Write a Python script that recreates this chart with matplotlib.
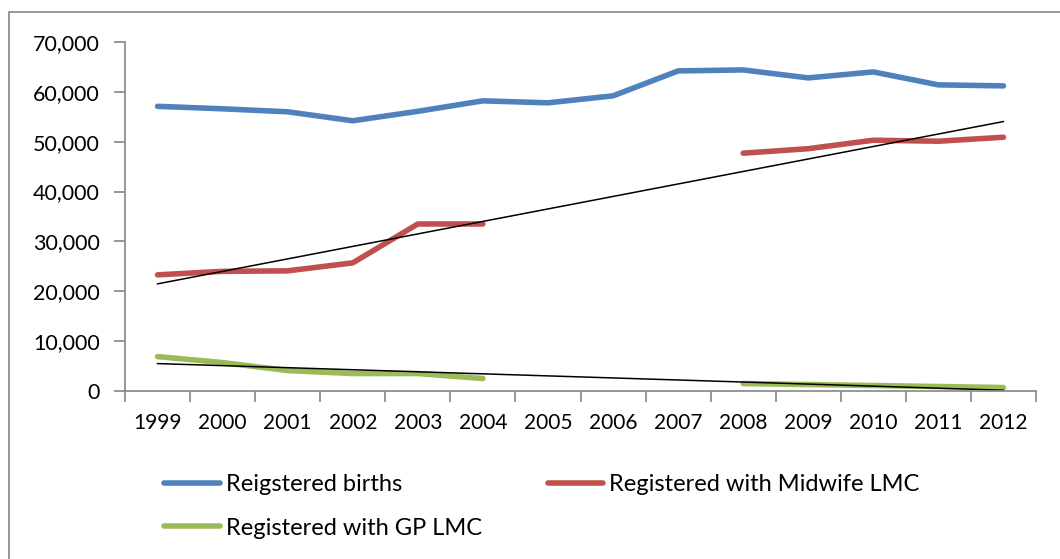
import numpy as np
import matplotlib.pyplot as plt
from matplotlib.patches import Rectangle
from matplotlib.ticker import FuncFormatter

years = [1999, 2000, 2001, 2002, 2003, 2004, 2005, 2006, 2007, 2008, 2009, 2010, 2011, 2012]
births = [57100, 56600, 56000, 54200, 56100, 58200, 57800, 59200, 64200, 64400, 62800, 64000, 61400, 61200]
midwife = [23300, 24000, 24100, 25700, 33500, 33500, None, None, None, 47700, 48600, 50300, 50100, 50900]
gp = [6900, 5700, 4100, 3500, 3500, 2500, None, None, None, 1500, 1300, 1100, 900, 700]

plt.rcParams['font.family'] = ['Lato', 'DejaVu Sans']

fig = plt.figure(figsize=(10.6, 5.59), dpi=100)
ax = fig.add_axes([125 / 1060, 1 - 391 / 559, (1036 - 125) / 1060, (391 - 42) / 559])

# chart frame (runs off the right and bottom edge like the original)
fig.patches.append(Rectangle((9 / 1060, -0.1), 1.2, 1 - 12 / 559 + 0.1,
                             transform=fig.transFigure, fill=False,
                             edgecolor='#868686', linewidth=1.2))

x = np.arange(len(years)) + 0.5

def to_arr(vals):
    return np.array([np.nan if v is None else v for v in vals], dtype=float)

series = [
    ("Reigstered births", births, '#4F81BD', False),
    ("Registered with Midwife LMC", midwife, '#C0504D', True),
    ("Registered with GP LMC", gp, '#9BBB59', True),
]

handles = []
for label, vals, color, trend in series:
    y = to_arr(vals)
    ln, = ax.plot(x, y, color=color, linewidth=4, solid_capstyle='round', label=label)
    handles.append(ln)
    if trend:
        ok = ~np.isnan(y)
        m, b = np.polyfit(x[ok], y[ok], 1)
        ax.plot(x, m * x + b, color='black', linewidth=1.1)

ax.set_xlim(0, len(years))
ax.set_ylim(0, 70000)
ax.set_yticks(np.arange(0, 70001, 10000))
ax.yaxis.set_major_formatter(FuncFormatter(lambda v, p: f"{int(v):,}"))
ax.set_xticks(np.arange(len(years) + 1))
ax.set_xticklabels([])
ax.set_xticks(x, minor=True)
ax.set_xticklabels([str(yr) for yr in years], minor=True)
ax.tick_params(axis='x', which='minor', length=0, pad=16, labelsize=15)
ax.tick_params(axis='x', which='major', length=8, color='#868686', width=1.2)
ax.tick_params(axis='y', length=8, color='#868686', width=1.2, labelsize=15.5, pad=10)

for s in ['top', 'right']:
    ax.spines[s].set_visible(False)
for s in ['left', 'bottom']:
    ax.spines[s].set_color('#868686')
    ax.spines[s].set_linewidth(1.2)

# row-wise order like Excel: births, midwife / gp
order = [handles[0], handles[2], handles[1]]
fig.legend(handles=order, labels=[h.get_label() for h in order],
           loc='upper left', bbox_to_anchor=(143 / 1060, 1 - 453 / 559),
           ncol=2, frameon=False, fontsize=17, handlelength=2.35,
           handletextpad=0.25, columnspacing=2.8, labelspacing=0.95)

plt.savefig("out.png", dpi=100)
